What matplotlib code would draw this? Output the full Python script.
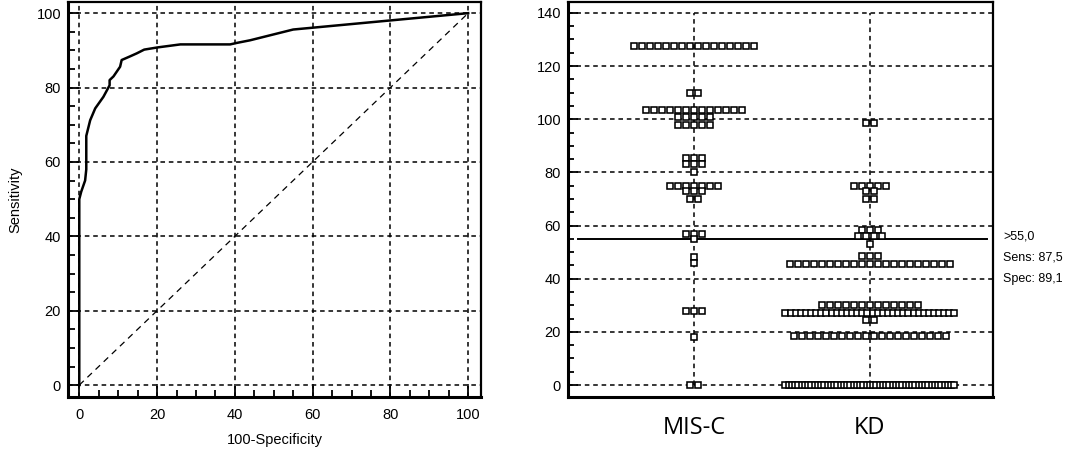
import matplotlib
matplotlib.use('Agg')
import matplotlib.pyplot as plt
from matplotlib.ticker import MultipleLocator

# ---------------- data ----------------
# ROC curve (100-Specificity, Sensitivity)
roc_fpr = [0, 0, 0.5, 1.5, 1.8, 1.8, 2.8, 4.1, 6.2, 7.8, 7.8, 8.8, 10.5, 10.9,
           13.1, 14.8, 16.7, 20.2, 26.0, 38.8, 40.5, 43.9, 55.0, 100]
roc_tpr = [0, 50.0, 52.0, 55.0, 58.0, 67.0, 71.2, 74.4, 77.5, 80.6, 82.0, 83.0,
           85.6, 87.4, 88.4, 89.2, 90.2, 90.8, 91.6, 91.6, 92.0, 92.7, 95.6, 100]

# Dot plot: distinct values and how many cases sit at each value
groups = ['MIS-C', 'KD']
misc_values = [127.5, 110, 103.5, 101, 98, 85.5, 83, 80, 75, 73, 70, 57, 55,
               48, 46, 28, 18, 0]
misc_counts = [16, 2, 13, 5, 5, 3, 3, 1, 7, 3, 2, 3, 1, 1, 1, 3, 1, 2]
kd_values = [98.5, 75, 73, 70, 58.5, 56, 53, 48.5, 45.5, 30, 27, 24.5, 18.5, 0]
kd_counts = [2, 5, 2, 2, 3, 4, 1, 3, 21, 13, 34, 2, 20, 53]

cutoff = 55.0
cutoff_texts = ['>55,0', 'Sens: 87,5', 'Spec: 89,1']

# ---------------- figure ----------------
plt.rcParams['font.family'] = ['Liberation Sans', 'DejaVu Sans']
W, H = 1084, 457
fig = plt.figure(figsize=(W / 100, H / 100), dpi=100)

def px_axes(l, r, t, b):
    return fig.add_axes([l / W, 1 - b / H, (r - l) / W, (b - t) / H])

grid_kw = dict(color='black', linewidth=1.1, linestyle=(0, (3, 2.5)))

# ---- left: ROC ----
ax1 = px_axes(68, 481, 2, 397)
ax1.set_xlim(-2.9, 103.3)
ax1.set_ylim(-3.2, 103.0)
ax1.xaxis.set_major_locator(MultipleLocator(20))
ax1.xaxis.set_minor_locator(MultipleLocator(5))
ax1.yaxis.set_major_locator(MultipleLocator(20))
ax1.yaxis.set_minor_locator(MultipleLocator(5))
ax1.tick_params(which='both', direction='in', top=False, right=False,
                width=1.3, labelsize=10.5)
ax1.tick_params(which='major', length=8)
ax1.tick_params(which='minor', length=5)
ax1.tick_params(axis='x', pad=8)
ax1.tick_params(axis='y', pad=5)
ax1.grid(True, which='major', **grid_kw)
ax1.set_axisbelow(True)
for s in ax1.spines.values():
    s.set_linewidth(1.6)
ax1.spines['left'].set_linewidth(2.2)
ax1.spines['bottom'].set_linewidth(2.2)
ax1.plot([0, 100], [0, 100], color='black', linewidth=0.9,
         linestyle=(0, (5, 4)))
ax1.plot(roc_fpr, roc_tpr, color='black', linewidth=1.8, solid_joinstyle='round')
ax1.set_xlabel('100-Specificity', fontsize=10.5, labelpad=8)
ax1.set_ylabel('Sensitivity', fontsize=10.5, labelpad=10)

# ---- right: dot plot ----
ax2 = px_axes(568, 993, 2, 397)
ax2.set_xlim(0.284, 2.699)
ax2.set_ylim(-4.5, 144.1)
ax2.yaxis.set_major_locator(MultipleLocator(20))
ax2.yaxis.set_minor_locator(MultipleLocator(5))
ax2.tick_params(axis='y', which='both', direction='in', right=False,
                width=1.3, labelsize=10.5, pad=5)
ax2.tick_params(axis='y', which='major', length=7)
ax2.tick_params(axis='y', which='minor', length=4)
ax2.set_xticks([1, 2])
ax2.set_xticklabels(groups, fontsize=17, family=['Open Sans', 'DejaVu Sans'])
ax2.tick_params(axis='x', length=0, pad=14)
ax2.yaxis.grid(True, which='major', **grid_kw)
ax2.set_axisbelow(True)
for s in ax2.spines.values():
    s.set_linewidth(1.6)
ax2.spines['left'].set_linewidth(2.2)
ax2.spines['bottom'].set_linewidth(2.2)
ax2.vlines([1, 2], 0, 140, color='black', linewidth=1.1,
           linestyles=[(0, (3, 2.5))], zorder=0.5)

pitch = 8 / 176      # normal spacing between neighbouring squares
max_span = 169 / 176  # widest a row may become (centre to centre)

def draw_group(xc, values, counts):
    xs, ys = [], []
    for v, n in zip(values, counts):
        p = pitch if n < 2 else min(pitch, max_span / (n - 1))
        for i in range(n):
            xs.append(xc + (i - (n - 1) / 2) * p)
            ys.append(v)
    ax2.plot(xs, ys, linestyle='none', marker='s', markersize=4.5,
             markerfacecolor='white', markeredgecolor='black',
             markeredgewidth=1.15, zorder=3)

draw_group(1, misc_values, misc_counts)
draw_group(2, kd_values, kd_counts)

ax2.plot([0.341, 2.665], [cutoff, cutoff], color='black', linewidth=1.4,
         zorder=2)

text_y = [55.7, 47.8, 39.9]
for t, y in zip(cutoff_texts, text_y):
    ax2.text(1.0235, y, t, transform=ax2.get_yaxis_transform(),
             fontsize=9, va='center', ha='left')

fig.savefig('out.png', dpi=100)
